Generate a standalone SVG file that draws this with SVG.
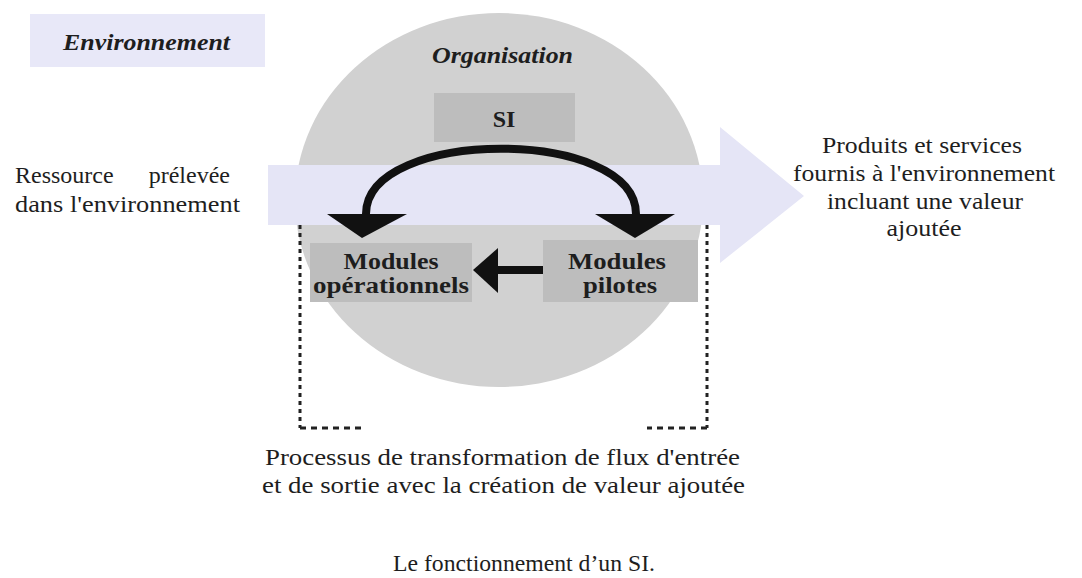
<svg xmlns="http://www.w3.org/2000/svg" width="1082" height="578" viewBox="0 0 1082 578">
<style>
text{fill:#1e1e1e;font-size:24px}
.bi{font-weight:bold;font-style:italic}
.b{font-weight:bold;text-anchor:middle}
.c{text-anchor:middle}
.box{fill:#bdbdbd}
.dotv{stroke:#222;stroke-width:3;fill:none;stroke-dasharray:4 4}
.doth{stroke:#222;stroke-width:3;fill:none;stroke-dasharray:6 5}
</style>
<rect width="1082" height="578" fill="#ffffff"/>
<g font-family="Liberation Serif, Times New Roman, serif">
<g id="environnement">
<rect x="30" y="14" width="235" height="53" fill="#e8e8f8"/>
<text class="bi" x="63" y="50" textLength="167" lengthAdjust="spacingAndGlyphs">Environnement</text>
</g>
<g id="organisation">
<ellipse cx="499" cy="200" rx="204" ry="187" fill="#d1d1d1"/>
<text class="bi" x="432" y="63" textLength="141" lengthAdjust="spacingAndGlyphs">Organisation</text>
</g>
<g id="flux">
<polygon points="268,165 720,165 720,127 804,196 720,263 720,225 268,225" fill="#e5e5f6"/>
</g>
<g id="si">
<rect class="box" x="434" y="93" width="141" height="49"/>
<text class="b" x="504" y="127">SI</text>
</g>
<g id="modules-operationnels">
<rect class="box" x="310" y="243" width="162" height="59"/>
<text class="b" x="391" y="269" textLength="95" lengthAdjust="spacingAndGlyphs">Modules</text>
<text class="b" x="391" y="293" textLength="156" lengthAdjust="spacingAndGlyphs">opérationnels</text>
</g>
<g id="modules-pilotes">
<rect class="box" x="543" y="240" width="155" height="62"/>
<text class="b" x="617" y="269" textLength="98" lengthAdjust="spacingAndGlyphs">Modules</text>
<text class="b" x="620" y="293" textLength="74" lengthAdjust="spacingAndGlyphs">pilotes</text>
</g>
<g id="connectors">
<path d="M 366 214 C 366 127, 636 127, 636 214" fill="none" stroke="#111" stroke-width="8"/>
<polygon points="327,214 407,214 362,238" fill="#111"/>
<polygon points="595,214 675,214 635,238" fill="#111"/>
<line x1="543" y1="270" x2="494" y2="270" stroke="#111" stroke-width="8"/>
<polygon points="473,270 498,248 498,293" fill="#111"/>
</g>
<g id="processus">
<path class="dotv" d="M 300 225 V 428"/>
<path class="doth" d="M 300 428 H 363"/>
<path class="dotv" d="M 707 225 V 428"/>
<path class="doth" d="M 707 428 H 647"/>
<text x="265" y="465" textLength="475" lengthAdjust="spacingAndGlyphs">Processus de transformation de flux d'entrée</text>
<text x="262" y="493" textLength="483" lengthAdjust="spacingAndGlyphs">et de sortie avec la création de valeur ajoutée</text>
</g>
<g id="ressource">
<text x="15" y="183"><tspan x="15">Ressource</tspan><tspan x="230" text-anchor="end">prélevée</tspan></text>
<text x="15" y="212" textLength="225" lengthAdjust="spacingAndGlyphs">dans l'environnement</text>
</g>
<g id="produits">
<text class="c" x="922" y="153" textLength="200" lengthAdjust="spacingAndGlyphs">Produits et services</text>
<text class="c" x="924" y="181" textLength="262" lengthAdjust="spacingAndGlyphs">fournis à l'environnement</text>
<text class="c" x="925" y="209" textLength="196" lengthAdjust="spacingAndGlyphs">incluant une valeur</text>
<text class="c" x="924" y="236" textLength="75" lengthAdjust="spacingAndGlyphs">ajoutée</text>
</g>
<g id="caption">
<text x="393" y="571" textLength="262" lengthAdjust="spacingAndGlyphs">Le fonctionnement d’un SI.</text>
</g>
</g>
</svg>
